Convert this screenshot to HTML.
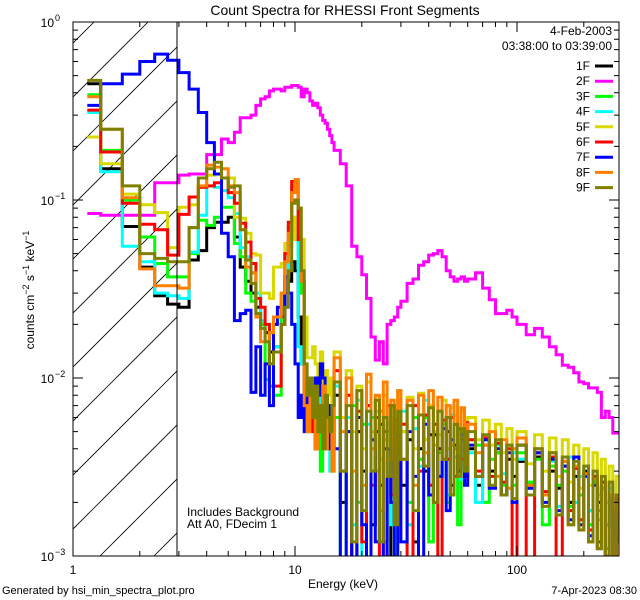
<!DOCTYPE html>
<html><head><meta charset="utf-8"><style>
html,body{margin:0;padding:0;background:#fff;}
svg{display:block;font-family:"Liberation Sans",sans-serif;}
</style></head><body>
<svg id="chart" width="640" height="600" viewBox="0 0 640 600" xmlns="http://www.w3.org/2000/svg">
<defs><clipPath id="plotclip"><rect x="73" y="22" width="546" height="534"/></clipPath>
<clipPath id="hatchclip"><rect x="73" y="22" width="104" height="534"/></clipPath></defs>
<rect x="0" y="0" width="640" height="600" fill="#fff"/>
<text x="345" y="15" font-size="14" text-anchor="middle">Count Spectra for RHESSI Front Segments</text>
<g id="hatch" clip-path="url(#hatchclip)"></g>
<g id="series" clip-path="url(#plotclip)"></g>
<g id="axes"></g>
<text transform="translate(34,290) rotate(-90)" font-size="12" text-anchor="middle">counts cm<tspan dy="-5" font-size="9">−2</tspan><tspan dy="5"> s</tspan><tspan dy="-5" font-size="9">−1</tspan><tspan dy="5"> keV</tspan><tspan dy="-5" font-size="9">−1</tspan></text>
<text x="343" y="588" font-size="12" text-anchor="middle">Energy (keV)</text>
<text x="2" y="594" font-size="11">Generated by hsi_min_spectra_plot.pro</text>
<text x="637" y="594" font-size="11" text-anchor="end">7-Apr-2023 08:30</text>
<text x="187" y="516" font-size="12">Includes Background</text>
<text x="187" y="528" font-size="12">Att A0, FDecim 1</text>
<text x="612" y="35" font-size="12" text-anchor="end">4-Feb-2003</text>
<text x="612" y="50" font-size="12" text-anchor="end">03:38:00 to 03:39:00</text>
<g id="legend"></g>
</svg>
<script>
const seriesNames = ["1F","2F","3F","4F","5F","6F","7F","8F","9F"];
const seriesColors = ["#000000","#ff00ff","#00ff00","#00ffff","#d8d800","#ff0000","#0000ff","#ff8000","#808000"];
const lowEdgeStep = 1/3;
const highEdges = [15,16,17,18,19,20,21,22,23,24,25,26,27,28,29,30,32,34,36,38,40,42,44,46,48,50,52,54,56,58,60,65,70,75,80,85,90,95,100,110,120,130,140,150,160,170,180,190,200,210,220,230,240,250,260,270,280,290,300];
const s1F = [.45,.15,.071,.042,.029,.026,.025,.046,.052,.07,.075,.075,.08,.062,.042,.035,.03,.025,.02,.018,.014,.015,.015,.02,.03,.035,.045,.04,.022,.012,.008,.01,.006,.009,.005,.007,.004,.006,.008,.005,.007,.004,
 .008,.002,.006,.0009,.005,.003,.007,.0015,.005,.0025,.004,.0009,.0045,.003,.005,.0025,.0045,.0012,.004,.003,.0048,.002,.004,.0035,.005,.0025,.0042,.003,.0045,.0028,.004,.0025,.0042,.003,.0038,.0022,.0035,.0028,.0034,.0025,.0036,.0022,.003,.0024,.0032,.002,.0028,.0022,.003,.0018,.0026,.002,.0024,.0015,.0022,.0012,.0018,.0014];
const s2F = [.084,.082,.082,.082,.125,.125,.138,.14,.14,.18,.18,.22,.21,.24,.29,.29,.3,.34,.37,.38,.41,.42,.42,.41,.43,.43,.44,.44,.43,.38,.42,.40,.36,.34,.35,.33,.30,.28,.27,.25,.23,.21,
 .19,.16,.12,.055,.048,.038,.028,.017,.0126,.016,.012,.02,.021,.022,.025,.027,.034,.036,.043,.045,.049,.05,.052,.048,.04,.037,.035,.036,.037,.035,.036,.039,.032,.0275,.023,.023,.024,.022,.02,.0175,.019,.017,.015,.0135,.0118,.0115,.0107,.0095,.0093,.0088,.0088,.0083,.006,.0065,.006,.0049,.0049,.0049];
const s3F = [.39,.19,.1,.062,.044,.037,.037,.05,.077,.072,.08,.091,.091,.057,.048,.03,.027,.023,.02,.0098,.009,.008,.008,.03,.036,.055,.12,.125,.05,.03,.006,.008,.005,.007,.004,.006,.003,.005,.007,.004,.006,.003,
 .006,.0008,.005,.007,.002,.0055,.0008,.006,.003,.0065,.0012,.005,.006,.0008,.0045,.005,.002,.006,.0035,.006,.0012,.0048,.0038,.0055,.002,.0045,.004,.0015,.005,.003,.0045,.0042,.002,.0035,.0038,.0025,.0042,.0025,.0038,.0026,.0035,.0015,.0032,.0025,.003,.0019,.0032,.0022,.0028,.0015,.0026,.0018,.0024,.0011,.0022,.0008,.0016,.0012];
const s4F = [.31,.144,.055,.045,.03,.029,.028,.051,.082,.12,.118,.113,.103,.084,.054,.048,.039,.03,.021,.02,.018,.015,.015,.02,.025,.06,.08,.07,.015,.012,.007,.009,.005,.006,.004,.008,.005,.004,.006,.005,.003,.006,
 .009,.003,.006,.0015,.0075,.0009,.0055,.003,.0065,.0018,.0045,.0055,.0015,.0052,.003,.0065,.0015,.0052,.0032,.0075,.0025,.005,.0028,.0058,.0022,.0062,.0036,.0048,.0027,.0052,.0038,.002,.0045,.0025,.0042,.0029,.0024,.0038,.0035,.0024,.0038,.0022,.0034,.0019,.0032,.0036,.002,.0028,.0032,.0018,.0028,.0016,.0026,.0015,.0024,.0012,.0018,.0014];
const s5F = [.226,.16,.108,.094,.085,.054,.091,.094,.118,.138,.14,.133,.133,.08,.079,.065,.05,.049,.03,.03,.028,.042,.042,.044,.057,.07,.06,.08,.065,.06,.022,.013,.013,.015,.012,.01,.014,.009,.011,.008,.01,.007,
 .014,.006,.011,.005,.009,.004,.0095,.005,.0075,.0035,.008,.0045,.007,.0038,.0085,.005,.0078,.004,.0082,.0045,.007,.0055,.0048,.0075,.004,.0068,.0062,.0048,.0065,.004,.006,.0045,.0058,.0042,.0055,.0038,.0052,.0035,.005,.0033,.0048,.003,.0046,.0028,.0045,.0026,.0042,.0024,.004,.0025,.0038,.0022,.0035,.002,.0032,.0018,.0028,.0016];
const s6F = [.32,.186,.096,.073,.068,.049,.083,.104,.118,.12,.125,.133,.11,.096,.074,.058,.044,.028,.025,.02,.012,.009,.009,.02,.05,.075,.127,.13,.06,.035,.006,.009,.005,.007,.004,.006,.005,.008,.004,.006,.005,.007,
 .011,.003,.008,.0008,.0065,.0012,.007,.0025,.006,.0009,.005,.007,.0022,.0058,.0028,.0055,.0008,.007,.003,.0062,.0025,.0055,.0008,.0058,.0035,.006,.0028,.0052,.0035,.0056,.0045,.003,.0046,.0028,.0043,.0026,.004,.0008,.0042,.0009,.0038,.0023,.0036,.0008,.0034,.0018,.0031,.0016,.0029,.0014,.0028,.0012,.0026,.001,.0022,.0009,.0021,.0012];
const s7F = [.34,.45,.51,.60,.66,.61,.52,.42,.31,.21,.14,.065,.048,.021,.023,.024,.0083,.015,.008,.012,.007,.02,.025,.022,.037,.03,.02,.012,.006,.008,.005,.01,.007,.006,.01,.008,.012,.01,.005,.007,.004,.006,
 .004,.0008,.005,.0009,.006,.0015,.0008,.0045,.0012,.0055,.0008,.004,.002,.0009,.0048,.0012,.005,.0028,.0009,.0055,.0022,.0048,.0028,.0052,.0018,.0045,.0055,.003,.0048,.0025,.0042,.0028,.0045,.0024,.004,.0022,.0038,.002,.0042,.0024,.0038,.002,.0035,.0018,.0032,.0016,.0036,.0015,.0028,.0013,.0025,.0011,.0024,.0009,.0022,.0008,.0018,.0012];
const s8F = [.38,.25,.103,.041,.033,.033,.032,.07,.12,.157,.153,.15,.12,.11,.068,.042,.039,.022,.016,.016,.018,.022,.022,.03,.045,.065,.11,.13,.09,.035,.007,.005,.008,.006,.004,.007,.005,.009,.004,.006,.005,.003,
 .013,.005,.01,.003,.0085,.0025,.0105,.004,.008,.0018,.0095,.0035,.0075,.0028,.0085,.0035,.0075,.0025,.008,.0038,.0085,.0042,.0078,.0035,.007,.0042,.0075,.0038,.0068,.0033,.0055,.0038,.0042,.005,.0028,.0045,.0024,.004,.0046,.0025,.004,.0022,.0038,.0017,.0034,.0015,.0032,.0014,.0029,.0012,.0027,.0011,.0024,.0009,.0022,.001,.0018,.0009];
const s9F = [.47,.25,.12,.05,.047,.045,.045,.07,.133,.15,.163,.133,.118,.12,.068,.046,.034,.023,.019,.016,.012,.014,.014,.02,.025,.04,.096,.1,.09,.04,.012,.008,.01,.006,.009,.005,.007,.004,.008,.006,.005,.007,
 .0095,.003,.007,.0012,.0085,.0018,.0065,.003,.0075,.0012,.006,.0028,.007,.0015,.0065,.0035,.007,.0018,.0062,.0032,.0068,.002,.0065,.0035,.006,.0022,.0055,.0028,.0052,.003,.005,.0028,.0048,.0025,.0045,.0022,.0042,.0021,.0042,.0022,.004,.0019,.0038,.0017,.0036,.0015,.0034,.0014,.0032,.0012,.003,.0011,.0028,.001,.0026,.0009,.0022,.0012];
const seriesValues = [s1F,s2F,s3F,s4F,s5F,s6F,s7F,s8F,s9F];
const xTickMajor = [1,10,100];
const xTickLabels = ["1","10","100"];
const yTickMajor = [1,0.1,0.01,0.001];
const yTickExp = ["0","−1","−2","−3"];

const NS="http://www.w3.org/2000/svg";
const X0=73,X1=619,Y0=22,Y1=556,XDEC=222,YDEC=178;
function xs(e){return X0+Math.log10(e)*XDEC;}
function ys(v){return Y0+(-Math.log10(v))*YDEC;}
function mk(tag,attrs,parent){const el=document.createElementNS(NS,tag);for(const k in attrs)el.setAttribute(k,attrs[k]);parent.appendChild(el);return el;}

const edges=[];
for(let i=0;i<42;i++)edges.push(1+i*lowEdgeStep);
for(const e of highEdges)edges.push(e);

const hatch=document.getElementById('hatch');
for(let k=-12;k<12;k++){
  const bx=100+k*54;
  const ln=mk('line',{x1:bx,y1:Y1,x2:bx+600,y2:Y1-600,stroke:'#000','stroke-width':0.8},hatch);
  
  
}

const sg=document.getElementById('series');
seriesValues.forEach((vals,si)=>{
  let d='';
  for(let i=0;i<vals.length;i++){
    const lo=i===0?1.16:edges[i],hi=edges[i+1];
    const y=ys(Math.max(vals[i],0.0003)).toFixed(1);
    d+=(i===0?'M':'L')+xs(lo).toFixed(1)+','+y+'L'+xs(hi).toFixed(1)+','+y;
  }
  const p=mk('path',{d:d,fill:'none',stroke:seriesColors[si],'stroke-width':3,'stroke-linejoin':'miter'},sg);
  
  
});

const ax=document.getElementById('axes');
const box=mk('rect',{x:X0,y:Y0,width:X1-X0,height:Y1-Y0,fill:'none',stroke:'#000','stroke-width':1},ax);


const vl=mk('line',{x1:177,y1:Y0,x2:177,y2:Y1,stroke:'#000','stroke-width':1},ax);


let td='';
for(let dec=1;dec<=100;dec*=10){
  for(let m=1;m<=9;m++){const e=dec*m;if(e>290)continue;const x=xs(e).toFixed(1);const L=m===1?10:5;
    td+=`M${x},${Y1}v${-L}M${x},${Y0}v${L}`;}
}
for(let dec=0.001;dec<1;dec*=10){
  for(let m=1;m<=9;m++){const y=ys(dec*m).toFixed(1);const L=m===1?10:5;
    td+=`M${X0},${y}h${L}M${X1},${y}h${-L}`;}
}
const ticks=mk('path',{d:td,stroke:'#000','stroke-width':1,fill:'none'},ax);


xTickMajor.forEach((e,i)=>{
  const t=mk('text',{x:xs(e),y:574,'font-size':12,'text-anchor':'middle'},ax);t.textContent=xTickLabels[i];
  
  
});
yTickMajor.forEach((v,i)=>{
  const t=mk('text',{x:54,y:ys(v)+5,'font-size':12,'text-anchor':'end'},ax);t.textContent='10';
  
  
  const s=mk('text',{x:55,y:ys(v)-1,'font-size':9},ax);s.textContent=yTickExp[i];
  
  
});

const lg=document.getElementById('legend');
seriesNames.forEach((n,i)=>{
  const y=66+i*15.2;
  const t=mk('text',{x:590,y:y+4,'font-size':12,'text-anchor':'end'},lg);t.textContent=n;
  
  
  const l=mk('line',{x1:595,y1:y,x2:613,y2:y,stroke:seriesColors[i],'stroke-width':3},lg);
  
  
});
</script>
</body></html>
